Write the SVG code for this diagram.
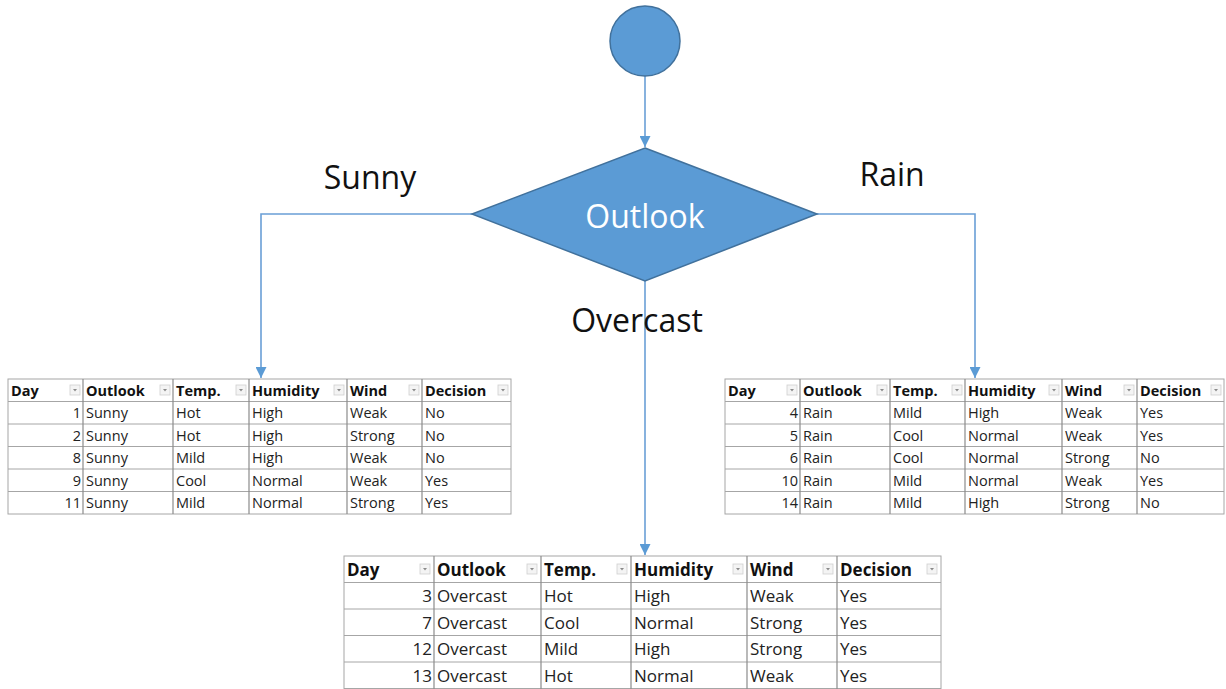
<svg xmlns="http://www.w3.org/2000/svg" width="1226" height="689" viewBox="0 0 1226 689">
<defs>
<marker id="ah" viewBox="0 0 10 10" refX="10" refY="5" markerWidth="11" markerHeight="11" markerUnits="userSpaceOnUse" orient="auto"><path d="M0,0 L10,5 L0,10 z" fill="#5b9bd5"/></marker>
<g id="flt"><rect x="0" y="0" width="10" height="10" fill="#f4f4f4" stroke="#cfcfcf" stroke-width="0.8"/><path d="M3,4 L7,4 L5,6.5 z" fill="#8a8a8a"/></g>
</defs>
<style>
.conn{fill:none;stroke:#6a9fd6;stroke-width:1.6}
.lbl{font-family:"Open Sans","Noto Sans",sans-serif;font-size:32px;fill:#111}
.grid{stroke:#a6a6a6;stroke-width:1;fill:none}
.vgrid{stroke:#8c8c8c;stroke-width:1.2}
.t{font-family:"Open Sans","Noto Sans",sans-serif;font-size:14.5px;fill:#222}
.th{font-family:"Open Sans","Noto Sans",sans-serif;font-size:14.5px;font-weight:bold;fill:#111}
.tb{font-family:"Open Sans","Noto Sans",sans-serif;font-size:17px;fill:#222}
.tbh{font-family:"Open Sans","Noto Sans",sans-serif;font-size:17px;font-weight:bold;fill:#111}
.r{text-anchor:end}
</style>
<rect width="1226" height="689" fill="#ffffff"/>

<g id="connectors">
<path class="conn" d="M645,76 L645,147" marker-end="url(#ah)"/>
<path class="conn" d="M472,214 L261,214 L261,378" marker-end="url(#ah)"/>
<path class="conn" d="M817,214 L975,214 L975,378" marker-end="url(#ah)"/>
<path class="conn" d="M645,281 L645,555" marker-end="url(#ah)"/>
</g>

<g id="start">
<circle cx="645" cy="41" r="35" fill="#5b9bd5" stroke="#41719c" stroke-width="1.5"/>
</g>

<g id="outlook">
<polygon points="645,148 817,214 645,281 472,214" fill="#5b9bd5" stroke="#41719c" stroke-width="1.5"/>
<text x="645" y="228" text-anchor="middle" font-family="Open Sans, Noto Sans, sans-serif" font-size="32" fill="#ffffff">Outlook</text>
</g>

<g id="labels">
<text class="lbl" x="370" y="189" text-anchor="middle">Sunny</text>
<text class="lbl" x="892" y="186" text-anchor="middle">Rain</text>
<text class="lbl" x="637" y="332" text-anchor="middle">Overcast</text>
</g>

<g id="table-sunny">
<rect class="grid" x="8" y="379" width="503" height="135"/>
<path class="grid" d="M8,401.5H511M8,424H511M8,446.5H511M8,469H511M8,491.5H511"/>
<path class="vgrid" d="M83,379V514M173,379V514M249,379V514M347,379V514M422,379V514"/>
<use href="#flt" x="70" y="385"/><use href="#flt" x="160" y="385"/><use href="#flt" x="236" y="385"/><use href="#flt" x="334" y="385"/><use href="#flt" x="409" y="385"/><use href="#flt" x="498" y="385"/>
<text class="th" x="11" y="396">Day</text><text class="th" x="86" y="396">Outlook</text><text class="th" x="176" y="396">Temp.</text><text class="th" x="252" y="396">Humidity</text><text class="th" x="350" y="396">Wind</text><text class="th" x="425" y="396">Decision</text>
<text class="t r" x="81" y="418">1</text><text class="t" x="86" y="418">Sunny</text><text class="t" x="176" y="418">Hot</text><text class="t" x="252" y="418">High</text><text class="t" x="350" y="418">Weak</text><text class="t" x="425" y="418">No</text>
<text class="t r" x="81" y="440.5">2</text><text class="t" x="86" y="440.5">Sunny</text><text class="t" x="176" y="440.5">Hot</text><text class="t" x="252" y="440.5">High</text><text class="t" x="350" y="440.5">Strong</text><text class="t" x="425" y="440.5">No</text>
<text class="t r" x="81" y="463">8</text><text class="t" x="86" y="463">Sunny</text><text class="t" x="176" y="463">Mild</text><text class="t" x="252" y="463">High</text><text class="t" x="350" y="463">Weak</text><text class="t" x="425" y="463">No</text>
<text class="t r" x="81" y="485.5">9</text><text class="t" x="86" y="485.5">Sunny</text><text class="t" x="176" y="485.5">Cool</text><text class="t" x="252" y="485.5">Normal</text><text class="t" x="350" y="485.5">Weak</text><text class="t" x="425" y="485.5">Yes</text>
<text class="t r" x="81" y="508">11</text><text class="t" x="86" y="508">Sunny</text><text class="t" x="176" y="508">Mild</text><text class="t" x="252" y="508">Normal</text><text class="t" x="350" y="508">Strong</text><text class="t" x="425" y="508">Yes</text>
</g>

<g id="table-rain">
<rect class="grid" x="725" y="379" width="499" height="135"/>
<path class="grid" d="M725,401.5H1224M725,424H1224M725,446.5H1224M725,469H1224M725,491.5H1224"/>
<path class="vgrid" d="M800,379V514M890,379V514M965,379V514M1062,379V514M1137,379V514"/>
<use href="#flt" x="787" y="385"/><use href="#flt" x="877" y="385"/><use href="#flt" x="952" y="385"/><use href="#flt" x="1049" y="385"/><use href="#flt" x="1124" y="385"/><use href="#flt" x="1211" y="385"/>
<text class="th" x="728" y="396">Day</text><text class="th" x="803" y="396">Outlook</text><text class="th" x="893" y="396">Temp.</text><text class="th" x="968" y="396">Humidity</text><text class="th" x="1065" y="396">Wind</text><text class="th" x="1140" y="396">Decision</text>
<text class="t r" x="798" y="418">4</text><text class="t" x="803" y="418">Rain</text><text class="t" x="893" y="418">Mild</text><text class="t" x="968" y="418">High</text><text class="t" x="1065" y="418">Weak</text><text class="t" x="1140" y="418">Yes</text>
<text class="t r" x="798" y="440.5">5</text><text class="t" x="803" y="440.5">Rain</text><text class="t" x="893" y="440.5">Cool</text><text class="t" x="968" y="440.5">Normal</text><text class="t" x="1065" y="440.5">Weak</text><text class="t" x="1140" y="440.5">Yes</text>
<text class="t r" x="798" y="463">6</text><text class="t" x="803" y="463">Rain</text><text class="t" x="893" y="463">Cool</text><text class="t" x="968" y="463">Normal</text><text class="t" x="1065" y="463">Strong</text><text class="t" x="1140" y="463">No</text>
<text class="t r" x="798" y="485.5">10</text><text class="t" x="803" y="485.5">Rain</text><text class="t" x="893" y="485.5">Mild</text><text class="t" x="968" y="485.5">Normal</text><text class="t" x="1065" y="485.5">Weak</text><text class="t" x="1140" y="485.5">Yes</text>
<text class="t r" x="798" y="508">14</text><text class="t" x="803" y="508">Rain</text><text class="t" x="893" y="508">Mild</text><text class="t" x="968" y="508">High</text><text class="t" x="1065" y="508">Strong</text><text class="t" x="1140" y="508">No</text>
</g>

<g id="table-overcast">
<rect class="grid" x="344" y="556" width="597" height="132.5"/>
<path class="grid" d="M344,582.5H941M344,609H941M344,635.5H941M344,662H941"/>
<path class="vgrid" d="M434,556V689M541,556V689M631,556V689M747,556V689M837,556V689"/>
<use href="#flt" x="420" y="564"/><use href="#flt" x="527" y="564"/><use href="#flt" x="617" y="564"/><use href="#flt" x="733" y="564"/><use href="#flt" x="823" y="564"/><use href="#flt" x="927" y="564"/>
<text class="tbh" x="347" y="576">Day</text><text class="tbh" x="437" y="576">Outlook</text><text class="tbh" x="544" y="576">Temp.</text><text class="tbh" x="634" y="576">Humidity</text><text class="tbh" x="750" y="576">Wind</text><text class="tbh" x="840" y="576">Decision</text>
<text class="tb r" x="432" y="602">3</text><text class="tb" x="437" y="602">Overcast</text><text class="tb" x="544" y="602">Hot</text><text class="tb" x="634" y="602">High</text><text class="tb" x="750" y="602">Weak</text><text class="tb" x="840" y="602">Yes</text>
<text class="tb r" x="432" y="628.5">7</text><text class="tb" x="437" y="628.5">Overcast</text><text class="tb" x="544" y="628.5">Cool</text><text class="tb" x="634" y="628.5">Normal</text><text class="tb" x="750" y="628.5">Strong</text><text class="tb" x="840" y="628.5">Yes</text>
<text class="tb r" x="432" y="655">12</text><text class="tb" x="437" y="655">Overcast</text><text class="tb" x="544" y="655">Mild</text><text class="tb" x="634" y="655">High</text><text class="tb" x="750" y="655">Strong</text><text class="tb" x="840" y="655">Yes</text>
<text class="tb r" x="432" y="681.5">13</text><text class="tb" x="437" y="681.5">Overcast</text><text class="tb" x="544" y="681.5">Hot</text><text class="tb" x="634" y="681.5">Normal</text><text class="tb" x="750" y="681.5">Weak</text><text class="tb" x="840" y="681.5">Yes</text>
</g>
</svg>
